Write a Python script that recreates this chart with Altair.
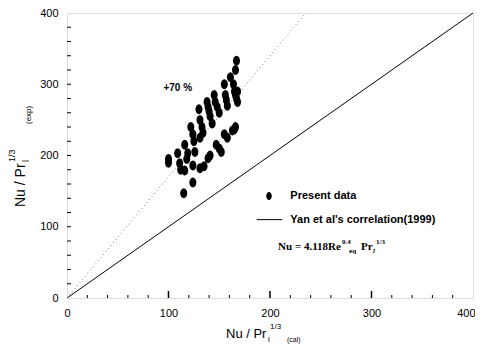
import altair as alt
import pandas as pd

# ---- data ----
x_cal = [100, 100, 109, 111, 112, 116, 119, 116, 118, 115, 122, 124, 125, 126, 124, 124,
         130, 131, 133, 134, 131, 131, 135, 138, 139, 140, 141, 143, 139, 141,
         145, 146, 148, 150, 147, 150, 152, 155, 156, 157, 158, 155, 158,
         167, 166, 164, 165, 166, 167, 168, 166, 165, 163, 168, 161]
y_exp = [190, 195, 203, 189, 180, 179, 203, 215, 195, 147, 240, 230, 220, 205, 186, 162,
         265, 250, 240, 232, 225, 182, 185, 275, 268, 262, 255, 245, 196, 200,
         285, 275, 268, 260, 215, 210, 205, 300, 285, 278, 270, 230, 225,
         333, 320, 300, 290, 285, 280, 275, 240, 237, 235, 290, 310]

axis_labels = [0, 100, 200, 300, 400]
minor_ticks = [20, 40, 60, 80, 120, 140, 160, 180, 220, 240, 260, 280, 320, 340, 360, 380]
major_ticks = [100, 200, 300]
y_ticks = [20, 40, 60, 80, 100, 120, 140, 160, 180, 200, 220, 240, 260, 280, 300, 320, 340, 360, 380]

diag_x = [0, 400]
diag_y = [0, 400]
plus70_x = [0, 400 / 1.7]
plus70_y = [0, 400]

W, H = 406, 285
FONT = "Liberation Sans"
SERIF = "Liberation Serif"

xs = alt.Scale(domain=[0, 400], nice=False)
ys = alt.Scale(domain=[0, 400], nice=False)
ellipse = "M-0.7,0A0.7,1 0 1,1 0.7,0A0.7,1 0 1,1 -0.7,0Z"

df = pd.DataFrame({"x": x_cal, "y": y_exp})

points = alt.Chart(df).mark_point(shape=ellipse, filled=True, color="black", size=100, opacity=1).encode(
    x=alt.X("x:Q", scale=xs, axis=alt.Axis(values=axis_labels, title=None, ticks=False, domain=False,
                                         grid=False, labelFont=FONT, labelFontSize=11, labelColor="black",
                                         labelPadding=9, labelFlush=False,
                                         labelAlign=alt.condition("datum.value == 400",
                                                                  alt.value("right"), alt.value("center")),
                                         labelOffset=alt.condition("datum.value == 400",
                                                                   alt.value(2), alt.value(0)))),
    y=alt.Y("y:Q", scale=ys, axis=alt.Axis(values=axis_labels, title=None, ticks=False, domain=False,
                                         grid=False, labelFont=FONT, labelFontSize=11, labelColor="black",
                                         labelPadding=9, labelFlush=False)),
)

diag = alt.Chart(pd.DataFrame({"x": diag_x, "y": diag_y})).mark_line(color="black", strokeWidth=1).encode(
    x=alt.X("x:Q", scale=xs), y=alt.Y("y:Q", scale=ys))
dotted = alt.Chart(pd.DataFrame({"x": plus70_x, "y": plus70_y})).mark_line(
    color="#777777", strokeWidth=1, strokeDash=[1, 3]).encode(
    x=alt.X("x:Q", scale=xs), y=alt.Y("y:Q", scale=ys))

minor = alt.Chart(pd.DataFrame({"t": minor_ticks})).mark_rule(color="black", strokeWidth=1).encode(
    x=alt.X("t:Q", scale=xs), y=alt.value(H), y2=alt.value(H - 3))
major = alt.Chart(pd.DataFrame({"t": major_ticks})).mark_rule(color="black", strokeWidth=1.5).encode(
    x=alt.X("t:Q", scale=xs), y=alt.value(H), y2=alt.value(H - 7))
yt = alt.Chart(pd.DataFrame({"t": y_ticks})).mark_rule(color="black", strokeWidth=1).encode(
    y=alt.Y("t:Q", scale=ys), x=alt.value(0), x2=alt.value(4))

# annotations
ann = pd.DataFrame({"x": [95], "y": [295], "t": ["+70 %"]})
plus_txt = alt.Chart(ann).mark_text(align="left", baseline="middle", font=FONT, fontSize=10,
                                    fontWeight="bold", color="black").encode(
    x=alt.X("x:Q", scale=xs), y=alt.Y("y:Q", scale=ys), text="t:N")

leg_pt = alt.Chart(pd.DataFrame({"x": [199], "y": [143]})).mark_point(
    shape=ellipse, filled=True, color="black", size=64, opacity=1).encode(
    x=alt.X("x:Q", scale=xs), y=alt.Y("y:Q", scale=ys))
leg_line = alt.Chart(pd.DataFrame({"x": [187], "x2": [212], "y": [110]})).mark_rule(
    color="black", strokeWidth=1).encode(
    x=alt.X("x:Q", scale=xs), x2="x2:Q", y=alt.Y("y:Q", scale=ys))
leg_txt = alt.Chart(pd.DataFrame({"x": [220, 220], "y": [143, 110],
                                  "t": ["Present data", "Yan et al's correlation(1999)"]})).mark_text(
    align="left", baseline="middle", font=FONT, fontSize=11, fontWeight="bold", color="black").encode(
    x=alt.X("x:Q", scale=xs), y=alt.Y("y:Q", scale=ys), text="t:N")

eq_x = 208
eq_y = 67
def eq_piece(txt, dx, dy, size, style="normal"):
    return alt.Chart(pd.DataFrame({"x": [eq_x], "y": [eq_y], "t": [txt]})).mark_text(
        align="left", baseline="alphabetic", font=SERIF, fontSize=size, fontWeight="bold",
        fontStyle=style, color="black", dx=dx, dy=dy).encode(
        x=alt.X("x:Q", scale=xs), y=alt.Y("y:Q", scale=ys), text="t:N")

eq = [
    eq_piece("Nu = 4.118Re", 0, 0, 11),
    eq_piece("0.4", 64, -6, 7),
    eq_piece("eq", 71, 3, 7),
    eq_piece("Pr", 83, 0, 11),
    eq_piece("l", 95, 3, 7, "italic"),
    eq_piece("1/3", 98, -6, 7),
]

# axis titles drawn as text pieces (pixel positions relative to plot origin)
def title_piece(txt, px, py, size, angle=0):
    kw = dict(align="left", baseline="alphabetic", font=FONT, fontSize=size, color="black")
    if angle:
        kw["angle"] = angle
    return alt.Chart(pd.DataFrame({"t": [txt]})).mark_text(**kw).encode(
        x=alt.value(px), y=alt.value(py), text="t:N")

titles = [
    title_piece("Nu / Pr", 159, 325, 13),
    title_piece("1/3", 203, 316, 8),
    title_piece("l", 201, 329, 8),
    title_piece("(cal)", 220, 329, 7),
    title_piece("Nu / Pr", -42, 194, 14, 270),
    title_piece("l", -38, 149, 9, 270),
    title_piece("1/3", -52, 149, 9, 270),
    title_piece("(exp)", -36, 111, 8, 270),
]

chart = alt.layer(diag, dotted, minor, major, yt, points, plus_txt, leg_pt, leg_line, leg_txt,
                  *eq, *titles).properties(
    width=W, height=H,
    autosize=alt.AutoSizeParams(type="none"),
    padding={"left": 59, "top": 5, "right": 2, "bottom": 46},
).configure_view(stroke="black", strokeWidth=1).configure(background="white")

chart.save("out.html", embed_options={"renderer": "svg", "actions": False})
